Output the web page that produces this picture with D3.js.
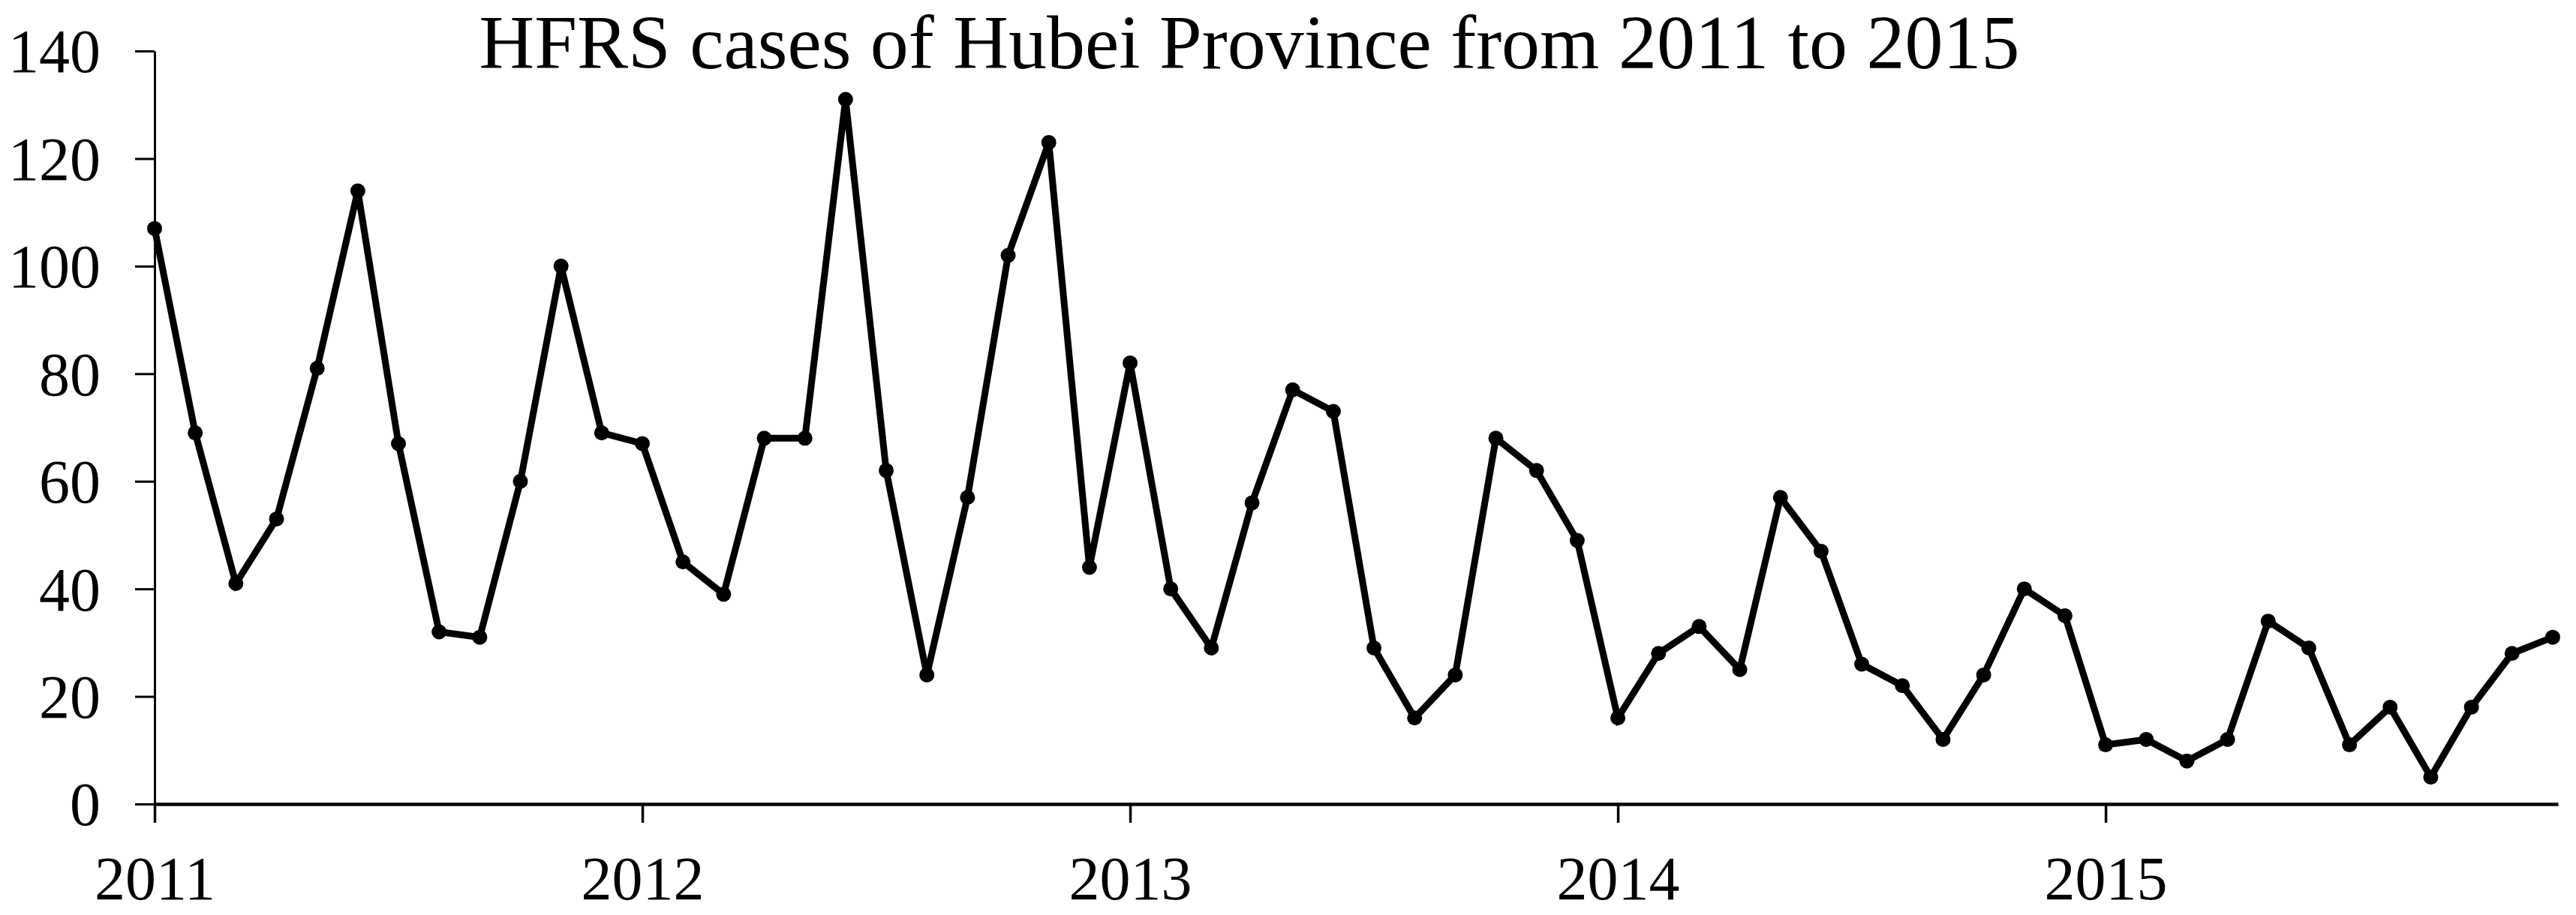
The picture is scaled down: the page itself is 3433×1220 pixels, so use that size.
<!DOCTYPE html>
<html>
<head>
<meta charset="utf-8">
<script src="https://cdn.jsdelivr.net/npm/d3@7"></script>
<style>
  html, body { margin: 0; padding: 0; background: #fff; }
  svg { display: block; }
  text { font-family: "Liberation Serif", "Times New Roman", serif; fill: #000; }
</style>
</head>
<body>
<svg id="chart" width="3433" height="1220"></svg>
<script>
// ---- data (monthly HFRS cases, Jan 2011 .. Dec 2015) ----
const cases2011 = [107, 69, 41, 53, 81, 114, 67, 32, 31, 60, 100, 69];
const cases2012 = [67, 45, 39, 68, 68, 131, 62, 24, 57, 102, 123, 44];
const cases2013 = [82, 40, 29, 56, 77, 73, 29, 16, 24, 68, 62, 49];
const cases2014 = [16, 28, 33, 25, 57, 47, 26, 22, 12, 24, 40, 35];
const cases2015 = [11, 12, 8, 12, 34, 29, 11, 18, 5, 18, 28, 31];
const yearLabels = ["2011", "2012", "2013", "2014", "2015"];
const yTickValues = [0, 20, 40, 60, 80, 100, 120, 140];
const titleText = "HFRS cases of Hubei Province from 2011 to 2015";

const values = [].concat(cases2011, cases2012, cases2013, cases2014, cases2015);
const data = values.map((v, i) => ({ i, v }));

// ---- layout ----
const svg = d3.select("#chart");
const x0 = 206, x1 = 3409, y0 = 1072, yTop = 68;
const x = d3.scaleLinear().domain([0, 59.13]).range([x0, x1]);
const y = d3.scaleLinear().domain([0, 140]).range([y0, yTop]);

// Y axis
const yAxis = d3.axisLeft(y).tickValues(yTickValues).tickSize(26).tickPadding(46).tickSizeOuter(0);
const gy = svg.append("g").attr("transform", `translate(${x0},0)`).call(yAxis);
gy.select(".domain").attr("stroke", "#000").attr("stroke-width", 3);
gy.selectAll(".tick line").attr("stroke", "#000").attr("stroke-width", 3);
gy.selectAll(".tick text").attr("font-size", 82).attr("font-family", "Liberation Serif").attr("dy", "0.34em");

// X axis
const xAxis = d3.axisBottom(x).tickValues([0, 12, 24, 36, 48])
  .tickFormat((d, k) => yearLabels[k]).tickSize(25).tickPadding(44).tickSizeOuter(0);
const gx = svg.append("g").attr("transform", `translate(0,${y0})`).call(xAxis);
gx.select(".domain").attr("stroke", "#000").attr("stroke-width", 4.5);
gx.selectAll(".tick line").attr("stroke", "#000").attr("stroke-width", 3.5);
gx.selectAll(".tick text").attr("font-size", 82).attr("font-family", "Liberation Serif").attr("dy", "0.71em");

// Line
const line = d3.line().x(d => x(d.i)).y(d => y(d.v));
svg.append("path").datum(data)
  .attr("d", line).attr("fill", "none").attr("stroke", "#000")
  .attr("stroke-width", 9).attr("stroke-linejoin", "miter");

svg.append("g").selectAll("circle").data(data).join("circle")
  .attr("cx", d => x(d.i)).attr("cy", d => y(d.v)).attr("r", 10).attr("fill", "#000");

// Title
svg.append("text").attr("x", 1665).attr("y", 91)
  .attr("text-anchor", "middle").attr("font-size", 102).text(titleText);
</script>
</body>
</html>
